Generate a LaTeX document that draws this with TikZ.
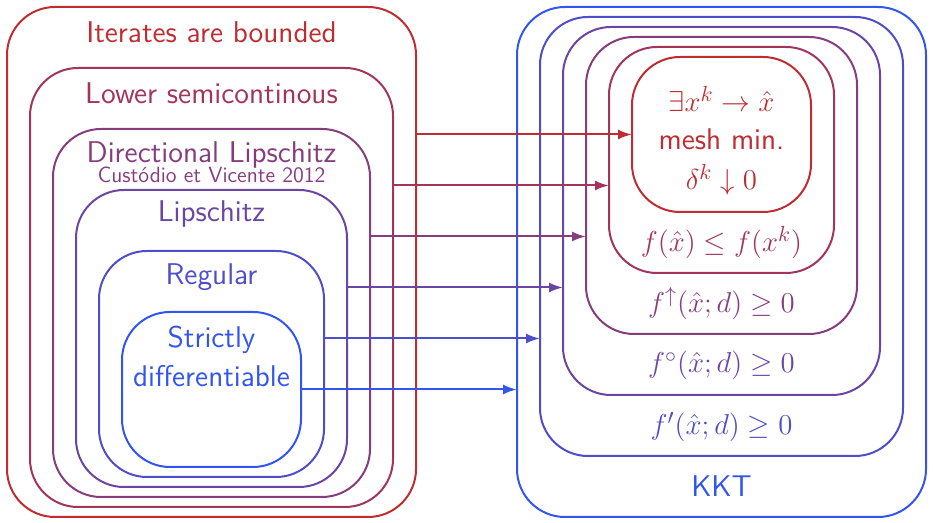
\documentclass[tikz,border=0pt]{standalone}
\usetikzlibrary{arrows.meta}
\definecolor{cA}{RGB}{190,45,50}
\definecolor{cF}{RGB}{50,85,240}
\colorlet{c0}{cA}
\colorlet{c1}{cF!20!cA}
\colorlet{c2}{cF!40!cA}
\colorlet{c3}{cF!60!cA}
\colorlet{c4}{cF!80!cA}
\colorlet{c5}{cF}
\begin{document}
\begin{tikzpicture}[x=0.5pt,y=-0.5pt,
  box/.style={draw=#1, line width=1pt, rounded corners=24pt, inner sep=0pt, outer sep=0pt},
  lbl/.style={text=#1, anchor=base, inner sep=0pt, font=\sffamily\fontsize{15}{18}\selectfont},
  mlbl/.style={text=#1, anchor=base, inner sep=0pt, font=\sffamily\fontsize{15.4}{18}\selectfont},
  sub/.style={text=#1, anchor=base, inner sep=0pt, font=\sffamily\fontsize{11}{13}\selectfont},
  arr/.style={draw=#1, line width=1pt, -{Latex[length=7pt,width=5pt]}}]
\useasboundingbox (0,0) rectangle (933,523);
% left nest
\node[box=c0, minimum width=204.5pt, minimum height=255pt] (L1) at (211.5,262) {};
\node[box=c1, minimum width=181.5pt, minimum height=219.5pt] (L2) at (211.5,287.5) {};
\node[box=c2, minimum width=158.5pt, minimum height=184pt] (L3) at (211.5,313) {};
\node[box=c3, minimum width=135.5pt, minimum height=148.5pt] (L4) at (211.5,338.5) {};
\node[box=c4, minimum width=112.5pt, minimum height=113pt] (L5) at (211.5,364) {};
\node[box=c5, minimum width=89.5pt, minimum height=77.5pt] (L6) at (211.5,389.5) {};
% right nest
\node[box=c5, minimum width=204.5pt, minimum height=255pt] (R1) at (721.5,262) {};
\node[box=c4, minimum width=181.5pt, minimum height=219.5pt] (R2) at (721.5,236.5) {};
\node[box=c3, minimum width=158.5pt, minimum height=184pt] (R3) at (721.5,211) {};
\node[box=c2, minimum width=135.5pt, minimum height=148.5pt] (R4) at (721.5,185.5) {};
\node[box=c1, minimum width=112.5pt, minimum height=113pt] (R5) at (721.5,160) {};
\node[box=c0, minimum width=89.5pt, minimum height=77.5pt] (R6) at (721.5,134.5) {};
% left labels
\node[lbl=c0] (t1) at (211.5,43) {Iterates are bounded};
\node[lbl=c1] (t2) at (211.5,104) {Lower semicontinous};
\node[lbl=c2] (t3) at (211.5,163) {Directional Lipschitz};
\node[sub=c2] (t3b) at (211.5,183) {Custódio et Vicente 2012};
\node[lbl=c3] (t4) at (211.5,222) {Lipschitz};
\node[lbl=c4] (t5) at (211.5,285) {Regular};
\node[lbl=c5] (t6) at (211.5,348) {Strictly};
\node[lbl=c5] (t6b) at (211.5,387) {differentiable};
% right labels
\node[mlbl=c0] (s1) at (721.5,112) {$\exists x^k \to \hat{x}$};
\node[lbl=c0] (s1b) at (721.5,150) {mesh min.};
\node[mlbl=c0] (s1c) at (721.5,190) {$\delta^k \downarrow 0$};
\node[mlbl=c1] (s2) at (721.5,252) {$f(\hat{x}) \leq f(x^k)$};
\node[mlbl=c2] (s3) at (721.5,313) {$f^{\uparrow}(\hat{x};d) \geq 0$};
\node[mlbl=c3] (s4) at (721.5,373) {$f^{\circ}(\hat{x};d) \geq 0$};
\node[mlbl=c4] (s5) at (721.5,435) {$f'(\hat{x};d) \geq 0$};
\node[lbl=c5] (s6) at (721.5,497) {KKT};
% arrows
\draw[arr=c0] (L1.east |- 0,134.5) -- (R6.west |- 0,134.5);
\draw[arr=c1] (L2.east |- 0,185.5) -- (R5.west |- 0,185.5);
\draw[arr=c2] (L3.east |- 0,236.5) -- (R4.west |- 0,236.5);
\draw[arr=c3] (L4.east |- 0,287.5) -- (R3.west |- 0,287.5);
\draw[arr=c4] (L5.east |- 0,338.5) -- (R2.west |- 0,338.5);
\draw[arr=c5] (L6.east |- 0,389.5) -- (R1.west |- 0,389.5);
\end{tikzpicture}
\end{document}
